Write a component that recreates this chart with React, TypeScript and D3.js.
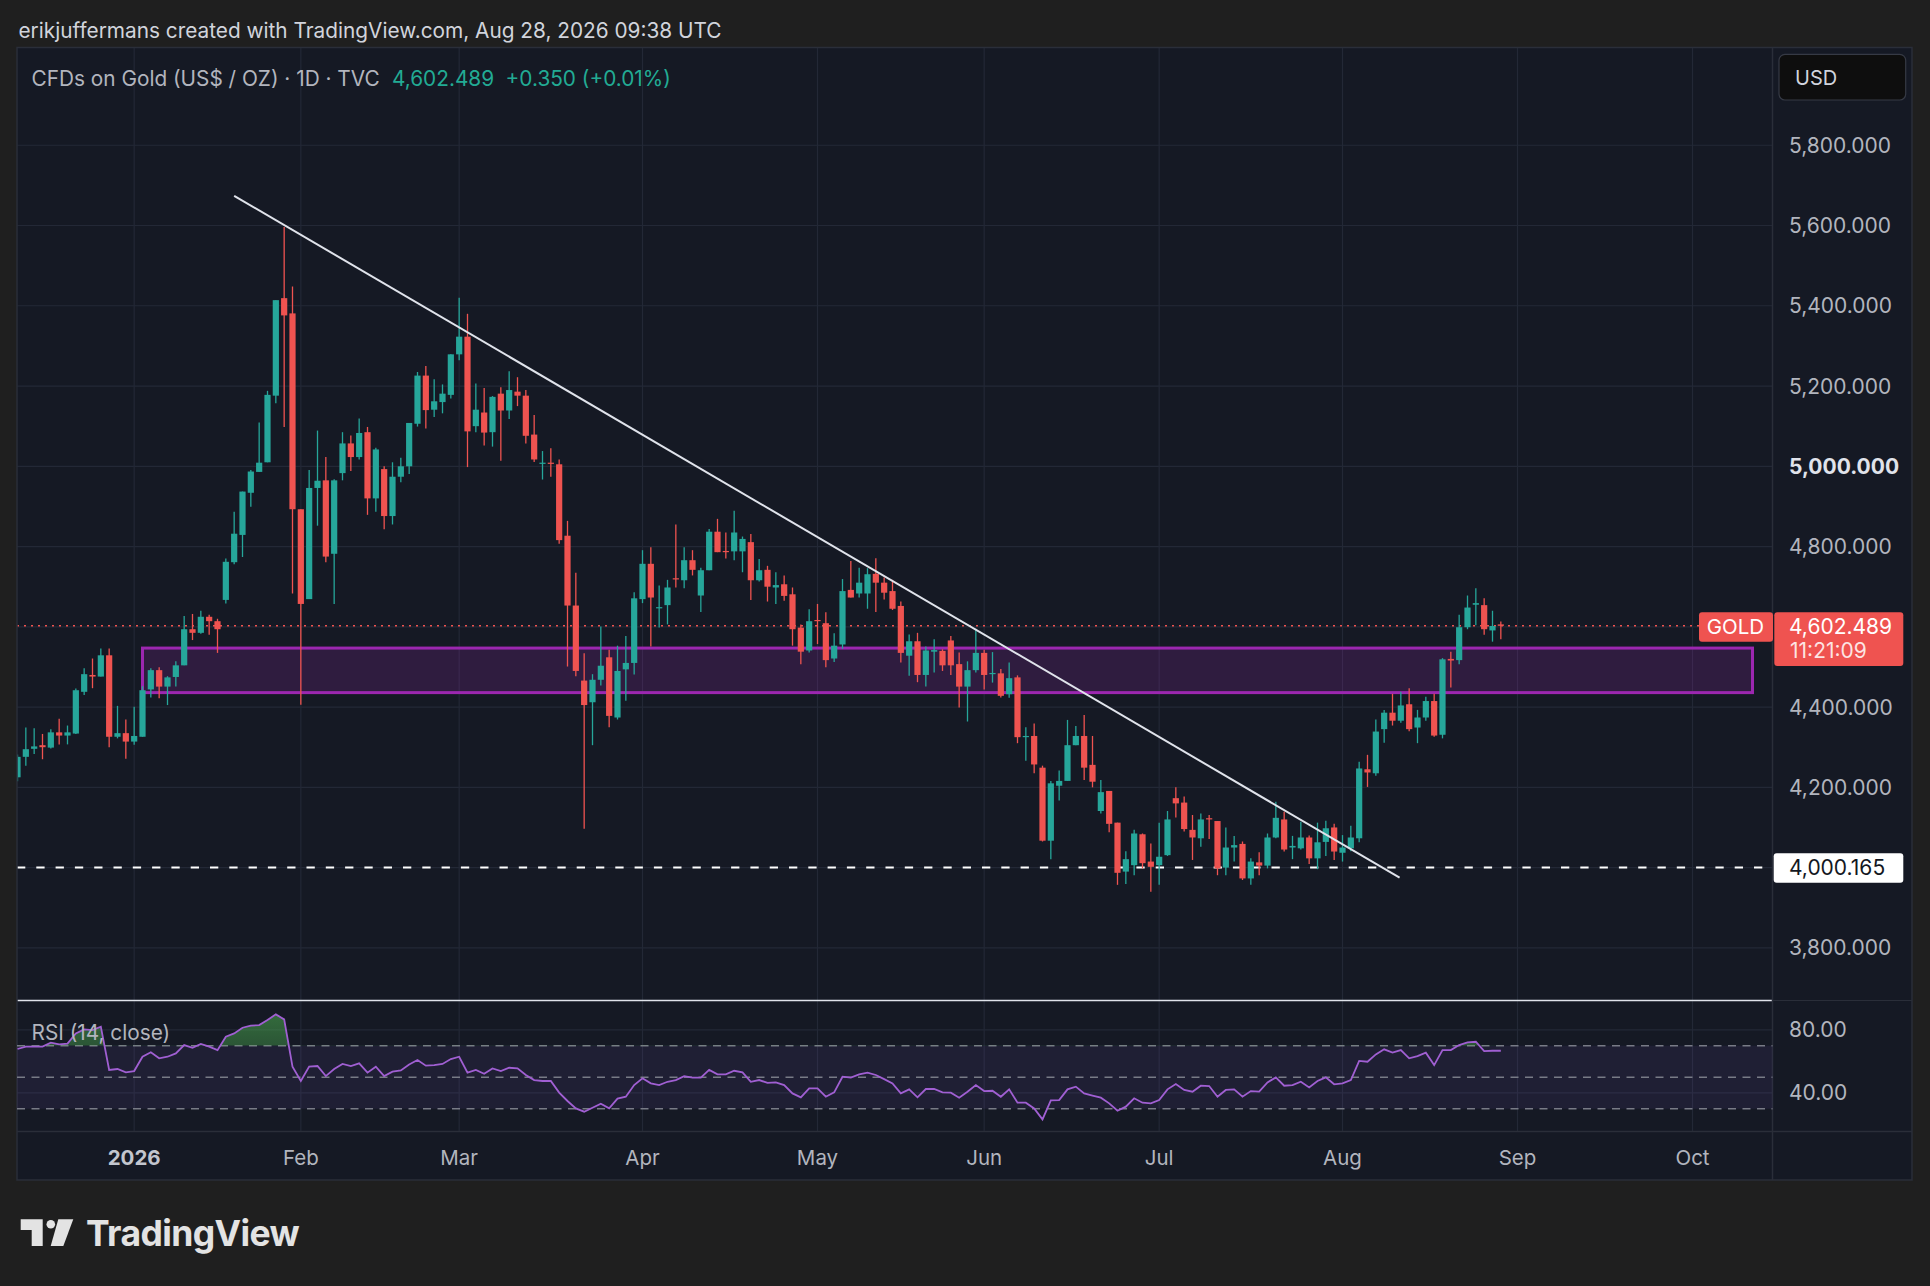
import * as d3 from "d3";

const WIDTH = 1930;
const HEIGHT = 1286;
const FONT = "Inter, 'Noto Sans', sans-serif";

const UP = "#26a69a";
const DOWN = "#ef5350";
const BG = "#1f1f1f";
const PANE_BG = "#151924";
const GRID = "#232836";
const BORDER = "#2a2e39";
const TEXT = "#b2b5be";

// trading calendar (weekdays minus US holidays)
const START_DAY = "2025-12-11";
const END_DAY = "2026-10-03";
const HOLIDAYS = ["2025-12-25", "2026-01-01", "2026-01-19", "2026-02-16", "2026-04-03", "2026-05-25", "2026-06-19", "2026-07-03", "2026-09-07"];

// daily candles, [open, high, low, close]
const DEC_2025 = [
  [4225, 4282, 4215, 4276], [4276, 4349, 4254, 4295], [4296, 4347, 4283, 4302], [4305, 4333, 4270, 4300],
  [4299, 4345, 4297, 4337], [4337, 4371, 4307, 4329], [4329, 4354, 4307, 4337], [4334, 4446, 4333, 4442],
  [4438, 4497, 4430, 4482], [4480, 4521, 4447, 4476], [4476, 4546, 4476, 4529], [4529, 4546, 4300, 4326],
  [4326, 4403, 4322, 4335], [4335, 4369, 4271, 4314],
];
const JAN_2026 = [
  [4314, 4401, 4306, 4328], [4326, 4452, 4326, 4442], [4444, 4497, 4424, 4492], [4492, 4499, 4422, 4451],
  [4451, 4477, 4405, 4474], [4475, 4514, 4451, 4504], [4504, 4627, 4504, 4594], [4594, 4632, 4567, 4585],
  [4585, 4640, 4583, 4625], [4625, 4630, 4580, 4614], [4614, 4620, 4535, 4594], [4667, 4770, 4658, 4762],
  [4761, 4887, 4756, 4832], [4829, 4937, 4774, 4937], [4934, 4991, 4899, 4987], [4986, 5109, 4986, 5009],
  [5010, 5188, 5010, 5178], [5176, 5414, 5157, 5414], [5419, 5596, 5098, 5376], [5381, 5448, 4683, 4893],
];
const FEB_2026 = [
  [4893, 4893, 4406, 4657], [4669, 4991, 4669, 4946], [4946, 5089, 4852, 4964], [4965, 5023, 4761, 4775],
  [4782, 4968, 4657, 4965], [4983, 5085, 4965, 5057], [5057, 5077, 4988, 5023], [5023, 5119, 5017, 5083],
  [5085, 5098, 4879, 4920], [4920, 5046, 4887, 5042], [4993, 5000, 4843, 4876], [4876, 5010, 4855, 4974],
  [4974, 5021, 4960, 5000], [5000, 5108, 4981, 5108], [5106, 5235, 5099, 5226], [5226, 5250, 5094, 5140],
  [5141, 5217, 5123, 5162], [5160, 5204, 5132, 5181], [5178, 5279, 5169, 5279],
];
const MAR_2026 = [
  [5279, 5420, 5264, 5323], [5323, 5380, 4998, 5087], [5100, 5206, 5085, 5141], [5134, 5195, 5052, 5084],
  [5085, 5175, 5049, 5173], [5181, 5197, 5014, 5139], [5139, 5237, 5118, 5190], [5186, 5222, 5150, 5176],
  [5176, 5190, 5057, 5076], [5079, 5128, 5011, 5017], [5007, 5038, 4967, 5009], [5009, 5045, 4974, 5007],
  [5005, 5017, 4807, 4816], [4827, 4864, 4501, 4653], [4653, 4735, 4477, 4490], [4466, 4534, 4097, 4405],
  [4412, 4482, 4305, 4468], [4468, 4601, 4454, 4503], [4524, 4543, 4350, 4378], [4374, 4553, 4369, 4490],
  [4494, 4577, 4416, 4510], [4510, 4686, 4481, 4671],
];
const APR_2026 = [
  [4669, 4791, 4659, 4757], [4757, 4798, 4551, 4673], [4646, 4703, 4598, 4649], [4654, 4717, 4606, 4698],
  [4721, 4855, 4698, 4718], [4716, 4798, 4696, 4766], [4766, 4791, 4728, 4742], [4678, 4747, 4637, 4741],
  [4741, 4844, 4741, 4837], [4837, 4869, 4786, 4786], [4789, 4835, 4770, 4786], [4788, 4889, 4766, 4835],
  [4788, 4825, 4736, 4819], [4811, 4831, 4667, 4716], [4716, 4769, 4713, 4741], [4742, 4752, 4663, 4700],
  [4698, 4736, 4657, 4704], [4706, 4728, 4665, 4677], [4681, 4698, 4553, 4594], [4598, 4606, 4507, 4538],
  [4541, 4644, 4536, 4614],
];
const MAY_2026 = [
  [4617, 4657, 4557, 4614], [4609, 4636, 4499, 4517], [4521, 4584, 4512, 4553], [4556, 4719, 4545, 4689],
  [4692, 4764, 4673, 4673], [4683, 4747, 4673, 4710], [4683, 4746, 4645, 4731], [4732, 4771, 4637, 4710],
  [4710, 4723, 4668, 4685], [4689, 4717, 4642, 4645], [4652, 4663, 4511, 4535], [4528, 4581, 4478, 4564],
  [4564, 4585, 4462, 4480], [4480, 4551, 4451, 4541], [4538, 4569, 4486, 4542], [4540, 4544, 4490, 4504],
  [4566, 4577, 4480, 4504], [4507, 4536, 4399, 4451], [4451, 4514, 4364, 4492], [4492, 4595, 4486, 4535],
];
const JUN_2026 = [
  [4535, 4543, 4444, 4480], [4482, 4537, 4461, 4485], [4484, 4495, 4424, 4428], [4432, 4511, 4423, 4472],
  [4474, 4479, 4310, 4325], [4325, 4350, 4266, 4328], [4328, 4359, 4235, 4257], [4249, 4254, 4065, 4067],
  [4067, 4216, 4021, 4210], [4204, 4242, 4167, 4216], [4216, 4368, 4216, 4305], [4305, 4353, 4305, 4328],
  [4328, 4380, 4218, 4249], [4256, 4328, 4200, 4214], [4141, 4218, 4135, 4188], [4191, 4191, 4088, 4109],
  [4112, 4112, 3957, 3987], [3990, 4041, 3959, 4021], [4006, 4094, 3981, 4085], [4083, 4085, 3998, 4011],
  [4015, 4060, 3940, 4002],
];
const JUL_2026 = [
  [4006, 4112, 3957, 4027], [4031, 4141, 4029, 4120], [4173, 4200, 4125, 4160], [4162, 4177, 4090, 4096],
  [4094, 4131, 4019, 4075], [4073, 4135, 4052, 4120], [4123, 4131, 4071, 4120], [4116, 4116, 3981, 3998],
  [4000, 4100, 3981, 4050], [4050, 4079, 4015, 4056], [4059, 4065, 3969, 3973], [3973, 4023, 3957, 4015],
  [4013, 4038, 3981, 4005], [4005, 4085, 3998, 4075], [4075, 4164, 4073, 4124], [4120, 4139, 4040, 4045],
  [4050, 4079, 4021, 4054], [4048, 4114, 4045, 4075], [4075, 4080, 4009, 4023], [4023, 4112, 3996, 4063],
  [4064, 4117, 4029, 4098], [4100, 4109, 4019, 4040],
];
const AUG_2026 = [
  [4037, 4081, 4015, 4050], [4048, 4104, 4041, 4075], [4073, 4264, 4063, 4247], [4245, 4281, 4201, 4237],
  [4235, 4369, 4229, 4339], [4345, 4393, 4311, 4386], [4386, 4433, 4354, 4366], [4366, 4438, 4361, 4404],
  [4407, 4447, 4340, 4345], [4349, 4393, 4310, 4374], [4374, 4426, 4366, 4415], [4415, 4433, 4326, 4329],
  [4331, 4522, 4322, 4519], [4520, 4538, 4449, 4516], [4517, 4630, 4507, 4599], [4599, 4678, 4594, 4648],
  [4655, 4696, 4604, 4659], [4654, 4671, 4580, 4594], [4591, 4640, 4563, 4602.14], [4606, 4613, 4569, 4602.489],
];

// RSI(14, close), one value per candle
const RSI_DEC_2025 = [67.9, 69.4, 69.4, 69.4, 71.9, 70.8, 71.3, 77.8, 80.4, 79.9, 82.1, 54.6, 55.2, 53.1];
const RSI_JAN_2026 = [53.9, 63.0, 65.8, 62.0, 63.0, 65.1, 70.4, 68.7, 71.1, 69.4, 67.2, 75.7, 77.8, 81.4, 82.7, 83.1, 86.3, 89.9, 86.7, 56.7];
const RSI_FEB_2026 = [47.6, 56.7, 57.1, 50.7, 55.2, 58.4, 57.1, 58.8, 52.9, 56.7, 50.7, 53.5, 54.3, 58.1, 60.9, 57.3, 57.7, 58.4, 61.5];
const RSI_MAR_2026 = [63.0, 52.9, 54.6, 52.2, 55.6, 53.9, 56.0, 55.6, 51.4, 48.2, 47.6, 47.6, 40.2, 34.9, 30.2, 28.1, 30.6, 33.2, 30.2, 36.4, 37.6, 45.0];
const RSI_APR_2026 = [49.3, 46.1, 45.0, 47.1, 48.2, 50.7, 49.7, 49.7, 54.6, 51.8, 51.8, 54.1, 53.1, 47.1, 48.2, 46.4, 46.7, 45.0, 39.7, 37.2, 42.9];
const RSI_MAY_2026 = [42.9, 37.6, 40.4, 50.3, 49.7, 51.8, 52.9, 51.4, 48.8, 46.1, 39.7, 42.3, 37.2, 42.5, 42.5, 40.4, 40.2, 37.0, 40.8, 45.0];
const RSI_JUN_2026 = [41.2, 41.4, 37.6, 42.3, 33.8, 33.8, 30.2, 23.2, 35.3, 35.5, 42.3, 44.0, 39.7, 38.3, 37.0, 33.4, 28.7, 31.3, 36.6, 33.8, 33.4];
const RSI_JUL_2026 = [35.5, 42.3, 45.7, 41.9, 40.8, 44.6, 44.4, 37.6, 41.9, 42.3, 37.6, 41.2, 40.8, 46.7, 49.9, 44.6, 45.0, 47.1, 43.5, 47.6, 49.9, 45.5];
const RSI_AUG_2026 = [46.1, 48.2, 60.3, 59.8, 64.5, 67.7, 65.6, 67.2, 62.0, 63.4, 65.6, 57.7, 67.2, 67.2, 70.4, 72.1, 72.5, 66.6, 66.8, 66.8];

const PRICE_TICKS = [3800, 4000, 4200, 4400, 4600, 4800, 5000, 5200, 5400, 5600, 5800];
const RSI_TICKS = [80, 40];
const RSI_LEVELS = [70, 50, 30];

// drawings: [bar index, price]
const TRENDLINE = [[26, 5674], [165.85, 3975]];
const ZONE = { from: 15, to: 208.2, top: 4547, bottom: 4436 };
const LAST_PRICE = 4602.489;
const COUNTDOWN = "11:21:09";
const SUPPORT = 4000.165;

const candles = [...DEC_2025, ...JAN_2026, ...FEB_2026, ...MAR_2026, ...APR_2026, ...MAY_2026, ...JUN_2026, ...JUL_2026, ...AUG_2026];
const rsi = [...RSI_DEC_2025, ...RSI_JAN_2026, ...RSI_FEB_2026, ...RSI_MAR_2026, ...RSI_APR_2026, ...RSI_MAY_2026, ...RSI_JUN_2026, ...RSI_JUL_2026, ...RSI_AUG_2026];

const parseDay = d3.utcParse("%Y-%m-%d");
const fmtDay = d3.utcFormat("%Y-%m-%d");
const tradingDays = d3.utcDay
  .range(parseDay(START_DAY)!, parseDay(END_DAY)!)
  .filter((d) => d.getUTCDay() % 6 !== 0 && !HOLIDAYS.includes(fmtDay(d)));

const monthTicks = tradingDays
  .map((d, i) => ({ d, i }))
  .filter(({ d, i }) => i > 0 && d.getUTCMonth() !== tradingDays[i - 1].getUTCMonth())
  .map(({ d, i }) => ({
    i,
    label: d.getUTCMonth() === 0 ? d3.utcFormat("%Y")(d) : d3.utcFormat("%b")(d),
    bold: d.getUTCMonth() === 0,
  }));

const PLOT = { left: 17, right: 1772.5, top: 47.5, bottom: 1000 };
const RSI_PANE = { top: 1001, bottom: 1131.5 };
const OUTER_RIGHT = 1912;
const AXIS_BOTTOM = 1180;

export default function App() {
  const x = d3.scaleLinear().domain([0, 201]).range([17.5, 1692.5]);
  const y = d3.scaleLinear().domain([3800, 5800]).range([947.85, 145.25]);
  const yRsi = d3.scaleLinear().domain([30, 70]).range([1108.7, 1045.7]);
  const fmtPrice = d3.format(",.3f");
  const bodyW = 6.2;

  const rsiLine = d3.line<number>().x((_, i) => x(i)).y((v) => yRsi(v))(rsi)!;
  const rsiArea = d3
    .area<number>()
    .x((_, i) => x(i))
    .y0(yRsi(70))
    .y1((v) => yRsi(v))(rsi)!;
  const trend = d3
    .line<number[]>()
    .x((d) => x(d[0]))
    .y((d) => y(d[1]))(TRENDLINE)!;

  const lastY = y(LAST_PRICE);
  const supY = y(SUPPORT);
  // axis labels hidden behind the price badges
  const axisTicks = PRICE_TICKS.filter((p) => Math.abs(y(p) - lastY) > 28 && Math.abs(y(p) - supY) > 24);

  return (
    <div style={{ position: "absolute", left: 0, top: 0 }}>
      <svg width={WIDTH} height={HEIGHT} style={{ display: "block", fontFamily: FONT }}>
        <defs>
          <clipPath id="main">
            <rect x={PLOT.left} y={PLOT.top} width={PLOT.right - PLOT.left} height={PLOT.bottom - PLOT.top} />
          </clipPath>
          <clipPath id="rsi">
            <rect x={PLOT.left} y={RSI_PANE.top} width={PLOT.right - PLOT.left} height={RSI_PANE.bottom - RSI_PANE.top} />
          </clipPath>
          <clipPath id="ob">
            <rect x={PLOT.left} y={RSI_PANE.top} width={PLOT.right - PLOT.left} height={yRsi(70) - RSI_PANE.top} />
          </clipPath>
          <linearGradient id="obFill" x1="0" y1="0" x2="0" y2="1">
            <stop offset="0%" stopColor="#4caf50" stopOpacity={0.55} />
            <stop offset="100%" stopColor="#4caf50" stopOpacity={0.05} />
          </linearGradient>
        </defs>

        <rect width={WIDTH} height={HEIGHT} fill={BG} />
        <rect x={PLOT.left} y={PLOT.top} width={OUTER_RIGHT - PLOT.left} height={AXIS_BOTTOM - PLOT.top} fill={PANE_BG} />

        {/* header */}
        <text x={18.5} y={38} fill="#d1d4dc" fontSize={20.8}>
          erikjuffermans created with TradingView.com, Aug 28, 2026 09:38 UTC
        </text>

        {/* grid */}
        {PRICE_TICKS.map((p) => (
          <line key={p} x1={PLOT.left} x2={PLOT.right} y1={y(p)} y2={y(p)} stroke={GRID} strokeWidth={1.2} />
        ))}
        {RSI_TICKS.map((v) => (
          <line key={v} x1={PLOT.left} x2={PLOT.right} y1={yRsi(v)} y2={yRsi(v)} stroke={GRID} strokeWidth={1.2} />
        ))}
        {monthTicks.map((t) => (
          <line key={t.i} x1={x(t.i)} x2={x(t.i)} y1={PLOT.top} y2={RSI_PANE.bottom} stroke={GRID} strokeWidth={1.2} />
        ))}

        {/* main pane */}
        <g clipPath="url(#main)">
          <rect
            x={x(ZONE.from)}
            y={y(ZONE.top)}
            width={x(ZONE.to) - x(ZONE.from)}
            height={y(ZONE.bottom) - y(ZONE.top)}
            fill="rgba(156,39,176,0.2)"
            stroke="#9c27b0"
            strokeWidth={3}
          />
          <line x1={PLOT.left} x2={PLOT.right} y1={lastY} y2={lastY} stroke={DOWN} strokeWidth={1.5} strokeDasharray="2 5" />
          <line x1={PLOT.left} x2={1768} y1={supY} y2={supY} stroke="#ffffff" strokeWidth={1.8} strokeDasharray="8.3 11" />
          {candles.map(([o, h, l, c], i) => {
            const col = c >= o ? UP : DOWN;
            const top = y(Math.max(o, c));
            const bh = Math.max(1.2, Math.abs(y(o) - y(c)));
            return (
              <g key={i}>
                <line x1={x(i)} x2={x(i)} y1={y(h)} y2={y(l)} stroke={col} strokeWidth={1.3} />
                <rect x={x(i) - bodyW / 2} y={top} width={bodyW} height={bh} fill={col} />
              </g>
            );
          })}
          <path d={trend} fill="none" stroke="#e0e3eb" strokeWidth={2} />
        </g>

        {/* legend */}
        <text x={31.5} y={86} fill={TEXT} fontSize={20.8}>
          CFDs on Gold (US$ / OZ) · 1D · TVC
        </text>
        <text x={392} y={86} fill="#22ab94" fontSize={20.8}>
          {fmtPrice(LAST_PRICE)}
        </text>
        <text x={505.6} y={86} fill="#22ab94" fontSize={20.8}>
          +0.350 (+0.01%)
        </text>

        {/* pane separators and borders */}
        <line x1={PLOT.left} x2={PLOT.right} y1={1000.5} y2={1000.5} stroke="#e0e3eb" strokeWidth={1.6} />
        <line x1={PLOT.right} x2={OUTER_RIGHT} y1={1000.5} y2={1000.5} stroke={BORDER} strokeWidth={1.2} />
        <line x1={PLOT.left} x2={OUTER_RIGHT} y1={RSI_PANE.bottom} y2={RSI_PANE.bottom} stroke={BORDER} strokeWidth={1.5} />
        <line x1={PLOT.right} x2={PLOT.right} y1={PLOT.top} y2={AXIS_BOTTOM} stroke={BORDER} strokeWidth={1.5} />
        <rect x={PLOT.left} y={PLOT.top} width={OUTER_RIGHT - PLOT.left} height={AXIS_BOTTOM - PLOT.top} fill="none" stroke={BORDER} strokeWidth={1.5} />

        {/* RSI pane */}
        <rect
          x={PLOT.left}
          y={yRsi(70)}
          width={PLOT.right - PLOT.left}
          height={yRsi(30) - yRsi(70)}
          fill="rgba(126,87,194,0.1)"
        />
        {RSI_LEVELS.map((v) => (
          <line key={v} x1={PLOT.left} x2={PLOT.right} y1={yRsi(v)} y2={yRsi(v)} stroke="#787b86" strokeWidth={1.4} strokeDasharray="8 6.5" />
        ))}
        <g clipPath="url(#rsi)">
          <path d={rsiArea} fill="url(#obFill)" clipPath="url(#ob)" />
          <path d={rsiLine} fill="none" stroke="#a05fd2" strokeWidth={1.8} />
        </g>
        <text x={31.5} y={1040} fill={TEXT} fontSize={20.8}>
          RSI (14, close)
        </text>

        {/* price axis */}
        {axisTicks.map((p) => (
          <text
            key={p}
            x={1789}
            y={y(p) + 7.5}
            fill={p === 5000 ? "#e0e3eb" : TEXT}
            fontWeight={p === 5000 ? 700 : 400}
            fontSize={21}
          >
            {fmtPrice(p)}
          </text>
        ))}
        {RSI_TICKS.map((v) => (
          <text key={v} x={1789} y={yRsi(v) + 7.5} fill={TEXT} fontSize={21}>
            {d3.format(".2f")(v)}
          </text>
        ))}

        <rect x={1779} y={54.3} width={126.7} height={45.7} rx={6} fill="#0e0e0e" stroke="#363a45" strokeWidth={1.2} />
        <text x={1795} y={85} fill="#d1d4dc" fontSize={20}>
          USD
        </text>

        {/* last price labels */}
        <rect x={1699} y={lastY - 13.5} width={74} height={29.4} rx={3} fill={DOWN} />
        <text x={1735.5} y={lastY + 8.5} fill="#ffffff" fontSize={20.5} textAnchor="middle">
          GOLD
        </text>
        <rect x={1774.3} y={lastY - 13.5} width={129} height={53.7} rx={3} fill={DOWN} />
        <text x={1789} y={lastY + 8} fill="#ffffff" fontSize={21}>
          {fmtPrice(LAST_PRICE)}
        </text>
        <text x={1790} y={lastY + 32.5} fill="rgba(255,255,255,0.85)" fontSize={21}>
          {COUNTDOWN}
        </text>

        <rect x={1773.7} y={supY - 14.2} width={129.6} height={29.4} rx={3} fill="#ffffff" />
        <text x={1789} y={supY + 7.5} fill="#131722" fontSize={21}>
          {fmtPrice(SUPPORT)}
        </text>

        {/* time axis */}
        {monthTicks.map((t) => (
          <text
            key={t.i}
            x={x(t.i)}
            y={1165}
            fill={t.bold ? "#c3c6ce" : TEXT}
            fontWeight={t.bold ? 700 : 400}
            fontSize={20.5}
            textAnchor="middle"
          >
            {t.label}
          </text>
        ))}

        {/* logo */}
        <g fill="#e3e3e3">
          <path d="M20.7,1219.3 H42.7 V1246 H31.7 V1230 H20.7 Z" />
          <circle cx={50.8} cy={1224.2} r={4.3} />
          <path d="M58.3,1219.3 H73.3 L63.3,1246 H50.7 Z" />
          <text x={86} y={1246} fontSize={35.5} fontWeight={700} letterSpacing={-0.6}>
            TradingView
          </text>
        </g>
      </svg>
    </div>
  );
}
